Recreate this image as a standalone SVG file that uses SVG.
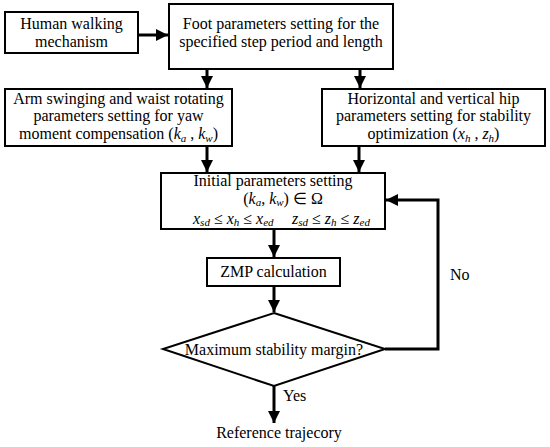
<svg xmlns="http://www.w3.org/2000/svg" width="550" height="447" viewBox="0 0 550 447">
<style>
.box{fill:#fff;stroke:#000;stroke-width:2}
.t{font-family:"Liberation Serif","Times New Roman",serif;font-size:16px;fill:#000}
.c{text-anchor:middle}
.i{font-style:italic}
.s{font-size:11px;font-style:italic}
.ln{fill:none;stroke:#000;stroke-width:3}
</style>
<defs>
<marker id="ah" markerUnits="userSpaceOnUse" markerWidth="12" markerHeight="14" refX="12" refY="6" orient="auto">
<path d="M0,0 L12,6 L0,12 Z" fill="#000"/>
</marker>
</defs>
<g id="connectors">
<line class="ln" x1="138" y1="35" x2="168" y2="35" marker-end="url(#ah)"/>
<line class="ln" x1="207" y1="69" x2="207" y2="88" marker-end="url(#ah)"/>
<line class="ln" x1="360" y1="69" x2="360" y2="88" marker-end="url(#ah)"/>
<line class="ln" x1="207" y1="146" x2="207" y2="172" marker-end="url(#ah)"/>
<line class="ln" x1="359" y1="146" x2="359" y2="172" marker-end="url(#ah)"/>
<line class="ln" x1="274" y1="229" x2="274" y2="257" marker-end="url(#ah)"/>
<line class="ln" x1="274" y1="286" x2="274" y2="312" marker-end="url(#ah)"/>
<line class="ln" x1="274" y1="386" x2="274" y2="423" marker-end="url(#ah)"/>
<polyline class="ln" points="385,349 438,349 438,200 386,200" marker-end="url(#ah)"/>
<text class="t" x="450" y="280">No</text>
<text class="t" x="283" y="401">Yes</text>
</g>
<g id="human">
<rect class="box" x="5" y="12" width="133" height="41"/>
<text class="t c" x="71.5" y="29">Human walking</text>
<text class="t c" x="71.5" y="47">mechanism</text>
</g>
<g id="foot">
<rect class="box" x="169" y="4" width="224" height="65"/>
<text class="t c" x="281" y="29">Foot parameters setting for the</text>
<text class="t c" x="281" y="47">specified step period and length</text>
</g>
<g id="arm">
<rect class="box" x="5" y="89" width="227" height="57"/>
<text class="t c" x="118.5" y="104">Arm swinging and waist rotating</text>
<text class="t c" x="118.5" y="121">parameters setting for yaw</text>
<text class="t c" x="118.5" y="139">moment compensation (<tspan class="i">k</tspan><tspan class="s" dy="3">a</tspan><tspan dy="-3"> , </tspan><tspan class="i">k</tspan><tspan class="s" dy="3">w</tspan><tspan dy="-3">)</tspan></text>
</g>
<g id="hip">
<rect class="box" x="322" y="89" width="223" height="57"/>
<text class="t c" x="433.5" y="104">Horizontal and vertical hip</text>
<text class="t c" x="433.5" y="121">parameters setting for stability</text>
<text class="t c" x="433.5" y="139">optimization (<tspan class="i">x</tspan><tspan class="s" dy="3">h</tspan><tspan dy="-3"> , </tspan><tspan class="i">z</tspan><tspan class="s" dy="3">h</tspan><tspan dy="-3">)</tspan></text>
</g>
<g id="init">
<rect class="box" x="161" y="173" width="224" height="56"/>
<text class="t c" x="273" y="186">Initial parameters setting</text>
<text class="t c" x="283" y="204">(<tspan class="i">k</tspan><tspan class="s" dy="2">a</tspan><tspan dy="-2">, </tspan><tspan class="i">k</tspan><tspan class="s" dy="2">w</tspan><tspan dy="-2">) ∈ Ω</tspan></text>
<text class="t" x="193" y="224"><tspan class="i">x</tspan><tspan class="s" dy="2">sd</tspan><tspan dy="-2"> ≤ </tspan><tspan class="i">x</tspan><tspan class="s" dy="2">h</tspan><tspan dy="-2"> ≤ </tspan><tspan class="i">x</tspan><tspan class="s" dy="2">ed</tspan></text>
<text class="t" x="292" y="224"><tspan class="i">z</tspan><tspan class="s" dy="2">sd</tspan><tspan dy="-2"> ≤ </tspan><tspan class="i">z</tspan><tspan class="s" dy="2">h</tspan><tspan dy="-2"> ≤ </tspan><tspan class="i">z</tspan><tspan class="s" dy="2">ed</tspan></text>
</g>
<g id="zmp">
<rect class="box" x="207" y="258" width="133" height="28"/>
<text class="t c" x="273.5" y="277">ZMP calculation</text>
</g>
<g id="decision">
<polygon class="box" points="274,313 385,349 274,386 163,349"/>
<text class="t c" x="274" y="355">Maximum stability margin?</text>
</g>
<g id="ref">
<text class="t c" x="279" y="438">Reference trajecory</text>
</g>
</svg>
